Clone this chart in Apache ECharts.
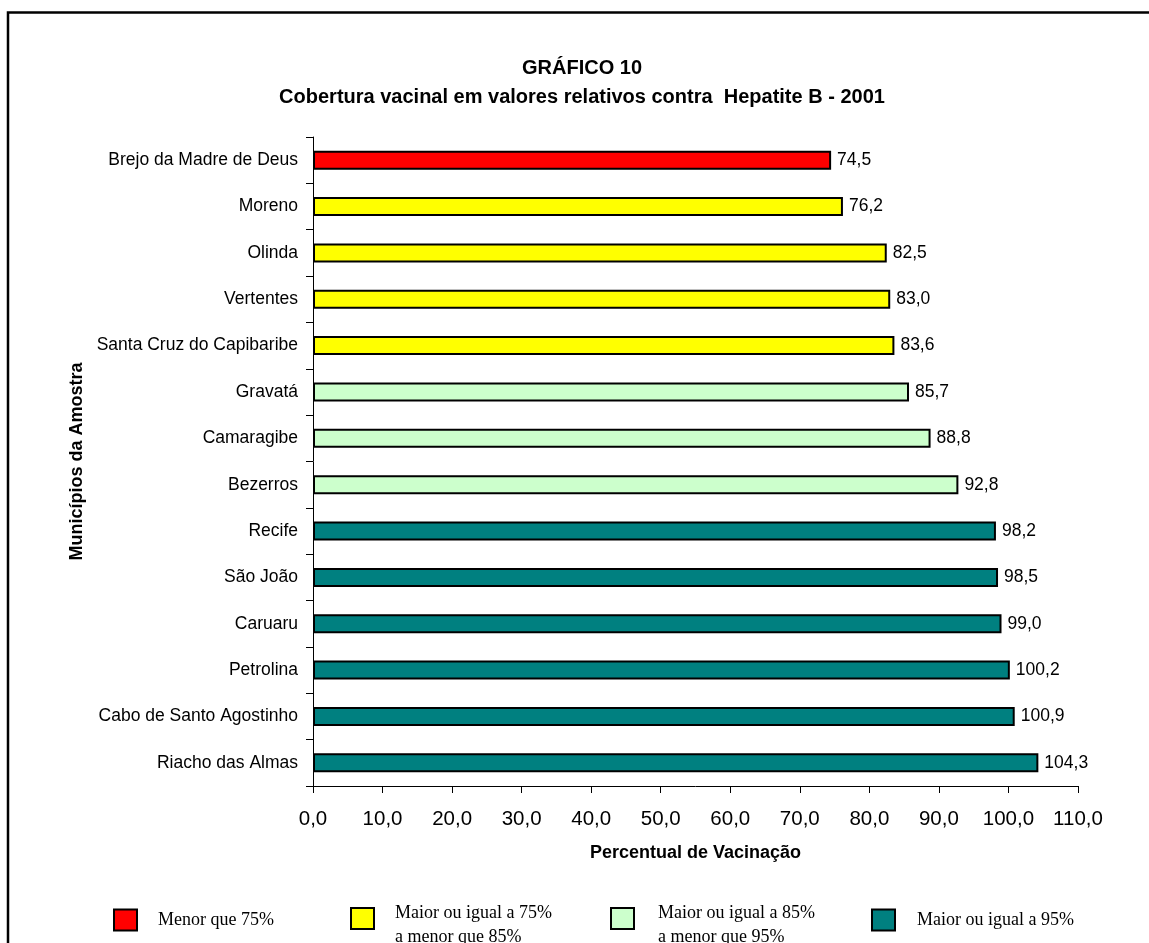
<!DOCTYPE html>
<html>
<head>
<meta charset="utf-8">
<script src="https://cdn.jsdelivr.net/npm/echarts@6/dist/echarts.min.js"></script>
<style>
html,body{margin:0;padding:0;background:#fff;}
#chart{width:1149px;height:943px;}
</style>
</head>
<body>
<div id="chart"></div>
<script>
const categories = ['Brejo da Madre de Deus','Moreno','Olinda','Vertentes','Santa Cruz do Capibaribe','Gravatá','Camaragibe','Bezerros','Recife','São João','Caruaru','Petrolina','Cabo de Santo Agostinho','Riacho das Almas'];
const values = [74.5, 76.2, 82.5, 83.0, 83.6, 85.7, 88.8, 92.8, 98.2, 98.5, 99.0, 100.2, 100.9, 104.3];
const classNames = ['Menor que 75%','Maior ou igual a 75%\na menor que 85%','Maior ou igual a 85%\na menor que 95%','Maior ou igual a 95%'];
const classLimits = [75, 85, 95, Infinity];
const classColors = ['#FF0000','#FFFF00','#CCFFCC','#008080'];
const titleText = 'GRÁFICO 10';
const subtitleText = 'Cobertura vacinal em valores relativos contra  Hepatite B - 2001';
const xAxisName = 'Percentual de Vacinação';
const yAxisName = 'Municípios da Amostra';

function classOf(v){ for (let i=0;i<classLimits.length;i++){ if (v < classLimits[i]) return i; } return classLimits.length-1; }
const fmt = v => Number(v).toFixed(1).replace('.', ',');

const legendLeft = [113, 350, 610, 871];
const legendTextPad = [16, 16, 19, 17];

const series = classNames.map((name, ci) => ({
  name: name,
  type: 'bar',
  barWidth: 19,
  barGap: '-100%',
  data: values.map(v => classOf(v) === ci ? v : '-'),
  itemStyle: { color: classColors[ci], borderColor: '#000', borderWidth: 2 },
  label: { show: true, position: 'right', distance: 6, color: '#000', fontSize: 17.5, fontFamily: 'Liberation Sans, Arial', formatter: p => fmt(p.value) },
  emphasis: { disabled: true }
}));

const serifFont = 'Liberation Serif, Times New Roman';
const legends = classNames.map((name, ci) => {
  const multi = name.indexOf('\n') >= 0;
  return {
    data: [{ name: name, icon: 'rect' }],
    left: legendLeft[ci],
    top: multi ? 888 : 908,
    padding: 0,
    itemWidth: 23,
    itemHeight: 21,
    selectedMode: false,
    formatter: n => n.indexOf('\n') >= 0 ? '{s| }\n' + n.split('\n').map(l => '{a|' + l + '}').join('\n') : n,
    textStyle: {
      fontFamily: serifFont, fontSize: 18, color: '#000', lineHeight: 24,
      padding: [0, 0, 0, legendTextPad[ci]],
      rich: {
        s: { fontSize: 1, lineHeight: 13, height: 13 },
        a: { fontFamily: serifFont, fontSize: 18, color: '#000', lineHeight: 24 }
      }
    }
  };
});

const chart = echarts.init(document.getElementById('chart'), null, { renderer: 'canvas' });
chart.setOption({
  animation: false,
  backgroundColor: '#fff',
  title: [
    { text: titleText, left: 582, top: 58, textAlign: 'center', padding: 0, textStyle: { fontFamily: 'Liberation Sans, Arial', fontWeight: 'bold', fontSize: 20, color: '#000' } },
    { text: subtitleText, left: 582, top: 87, textAlign: 'center', padding: 0, textStyle: { fontFamily: 'Liberation Sans, Arial', fontWeight: 'bold', fontSize: 20, color: '#000' } }
  ],
  legend: legends,
  grid: { left: 313, right: 71, top: 137, bottom: 157, containLabel: false },
  xAxis: {
    type: 'value', min: 0, max: 110, interval: 10,
    name: xAxisName, nameLocation: 'middle', nameGap: 58,
    nameTextStyle: { fontFamily: 'Liberation Sans, Arial', fontWeight: 'bold', fontSize: 18, color: '#000' },
    axisLine: { show: true, lineStyle: { color: '#000', width: 1 } },
    axisTick: { show: true, inside: false, length: 7, lineStyle: { color: '#000' } },
    splitLine: { show: false },
    axisLabel: { fontFamily: 'Liberation Sans, Arial', fontSize: 20.5, color: '#000', margin: 23, formatter: v => fmt(v) }
  },
  yAxis: {
    type: 'category', data: categories, inverse: true,
    name: yAxisName, nameLocation: 'middle', nameGap: 222, nameRotate: 90,
    nameTextStyle: { fontFamily: 'Liberation Sans, Arial', fontWeight: 'bold', fontSize: 18, color: '#000' },
    axisLine: { show: true, lineStyle: { color: '#000', width: 1 } },
    axisTick: { show: true, inside: false, length: 7, alignWithLabel: false, lineStyle: { color: '#000' } },
    splitLine: { show: false },
    axisLabel: { fontFamily: 'Liberation Sans, Arial', fontSize: 17.5, color: '#000', margin: 15 }
  },
  series: series,
  graphic: [
    { type: 'rect', silent: true, z: -1, shape: { x: 8, y: 12.5, width: 1300, height: 1100 }, style: { fill: null, stroke: '#000', lineWidth: 2.5 } }
  ]
});
</script>
</body>
</html>
